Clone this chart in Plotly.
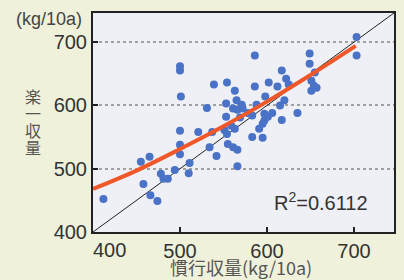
import plotly.graph_objects as go

# Scatter data (慣行収量 vs 楽一収量, kg/10a)
conv_yield = [412, 455, 465, 458, 466, 474, 478, 481, 486, 494,
              500, 500, 500, 500, 500, 501, 511, 510, 521, 534,
              542, 537, 531, 539, 554, 563, 565, 553, 561, 566,
              572, 553, 551, 559, 563, 555, 561, 566, 566, 554,
              569, 578, 583, 586, 586, 602, 598, 588, 597, 601,
              597, 595, 591, 583, 595, 606, 617, 612, 617, 622,
              625, 620, 615, 635, 649, 649, 655, 651, 654, 657,
              651, 703, 703, 571]
raku_yield = [452, 511, 519, 476, 458, 449, 492, 484, 484, 498,
              560, 538, 523, 662, 655, 614, 509, 493, 558, 534,
              520, 558, 596, 633, 636, 623, 608, 603, 595, 593,
              595, 582, 561, 568, 563, 539, 534, 530, 504, 555,
              581, 588, 584, 679, 630, 636, 614, 601, 587, 582,
              576, 571, 563, 550, 549, 588, 577, 630, 655, 642,
              633, 608, 600, 588, 682, 666, 652, 639, 631, 628,
              623, 708, 679, 601]

# Regression curve
fit_x = [400, 450, 500, 550, 600, 650, 702]
fit_y = [468, 497, 531, 567, 606, 648, 694]

# 1:1 line
diag = [400, 746]

x_ticks = [500, 600, 700]
y_ticks = [400, 500, 600, 700]
y_title_chars = ["楽", "一", "収", "量"]

num_font = "Liberation Sans, Arial, sans-serif"
cjk_font = "Noto Sans CJK JP, sans-serif"

fig = go.Figure()
fig.add_trace(go.Scatter(x=diag, y=diag, mode="lines",
                         line=dict(color="#222222", width=1), hoverinfo="skip"))
fig.add_trace(go.Scatter(x=conv_yield, y=raku_yield, mode="markers",
                         marker=dict(color="#4a72c6", size=8)))
fig.add_trace(go.Scatter(x=fit_x, y=fit_y, mode="lines",
                         line=dict(color="#f0582a", width=4, shape="spline")))

L, R, T, B = 93, 8, 13, 48
PW, PH = 404 - L - R, 280 - T - B


def px(xp, yp):
    """pixel position -> paper coordinates"""
    return (xp - L) / PW, 1 - (yp - T) / PH


fig.update_layout(
    width=404, height=280,
    margin=dict(l=L, r=R, t=T, b=B),
    paper_bgcolor="#eff1da",
    plot_bgcolor="#eef0f5",
    showlegend=False,
    font=dict(family=num_font, color="#333333", size=20),
)
fig.update_xaxes(range=[400, 746], tickvals=x_ticks, ticks="inside", ticklen=5,
                 tickcolor="#222222", tickwidth=1.5,
                 showline=True, linecolor="#222222", linewidth=2, mirror=True,
                 showgrid=False, zeroline=False,
                 tickfont=dict(size=20, family=num_font, color="#333333"))
fig.update_yaxes(range=[400, 746], tickvals=y_ticks, ticks="inside", ticklen=5,
                 tickcolor="#222222", tickwidth=1.5,
                 showline=True, linecolor="#222222", linewidth=2, mirror=True,
                 showgrid=True, gridcolor="#a0a0a0", griddash="dot", gridwidth=1.5,
                 zeroline=False,
                 tickfont=dict(size=20, family=num_font, color="#333333"))


def label(xp, yp, text, size, family, color):
    x, y = px(xp, yp)
    fig.add_annotation(x=x, y=y, xref="paper", yref="paper", text=text,
                       showarrow=False, xanchor="center", yanchor="middle",
                       font=dict(size=size, family=family, color=color))


label(110, 250, "400", 20, num_font, "#333333")
label(242, 267, "慣行収量(kg/10a)", 18, cjk_font, "#555555")
label(49, 19, "(kg/10a)", 18, num_font, "#444444")
for i, ch in enumerate(y_title_chars):
    label(33, 96 + i * 17, ch, 16, cjk_font, "#555555")
label(323, 201, "R<sup>2</sup>=0.6112", 20, num_font, "#333333")

fig.write_html("out.html",
               config={"displayModeBar": False},
               post_script="document.body.style.margin='0';"
                           "document.body.style.overflow='hidden';")
